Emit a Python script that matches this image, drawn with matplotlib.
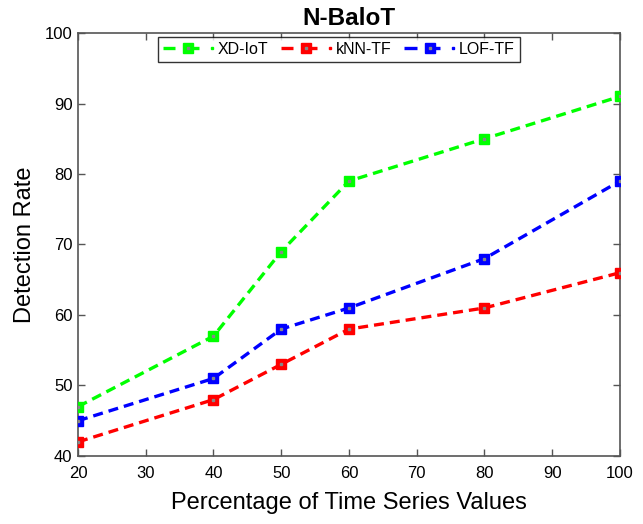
import matplotlib
matplotlib.use("Agg")
import matplotlib.pyplot as plt
from matplotlib.lines import Line2D
from matplotlib.legend_handler import HandlerBase

plt.rcParams['font.family'] = ['Liberation Sans', 'DejaVu Sans']

# data
percent = [20, 40, 50, 60, 80, 100]
xd_iot = [47, 57, 69, 79, 85, 91]
knn_tf = [42, 48, 53, 58, 61, 66]
lof_tf = [45, 51, 58, 61, 68, 79]

series = [
    ("XD-IoT", xd_iot, "#00FF00"),
    ("kNN-TF", knn_tf, "#FF0000"),
    ("LOF-TF", lof_tf, "#0000FF"),
]

AXIS_COLOR = "#555555"
LW = 2.4


class MatlabLegendHandler(HandlerBase):
    # mimic the odd MATLAB legend glyph: short line, marker with stub, dot
    def create_artists(self, legend, orig_handle, xdescent, ydescent,
                       width, height, fontsize, trans):
        col = orig_handle.get_color()
        x0 = -xdescent
        y = -ydescent + height / 2.0
        seg = Line2D([x0, x0 + 0.25 * width], [y, y], color=col, lw=LW,
                     solid_capstyle='butt')
        stub = Line2D([x0 + 0.52 * width, x0 + 0.74 * width], [y, y],
                      color=col, lw=LW, solid_capstyle='butt')
        mk = Line2D([x0 + 0.52 * width], [y], linestyle='none', marker='s',
                    markersize=7, color=col)
        mdot = Line2D([x0 + 0.52 * width], [y], linestyle='none', marker='s',
                      markersize=1.5, color='#888888')
        dot = Line2D([x0 + width], [y], linestyle='none', marker='s',
                     markersize=1.5, color=col)
        arts = [seg, stub, mk, mdot, dot]
        for a in arts:
            a.set_transform(trans)
        return arts


fig = plt.figure(figsize=(6.43, 5.24), dpi=100)
ax = fig.add_axes([0.1213, 0.1298, 0.8429, 0.8072])

handles = []
for label, vals, col in series:
    ax.plot(percent, vals, color=col, linewidth=LW, dashes=(3, 1.8),
            marker='s', markersize=7, markerfacecolor=col, markeredgecolor=col,
            zorder=3)
    # small grey dot in the middle of each marker
    ax.plot(percent, vals, linestyle='none', marker='s', markersize=1.5,
            color='#888888', zorder=4)
    handles.append(Line2D([], [], color=col, label=label))

ax.set_xlim(20, 100)
ax.set_ylim(40, 100)
ax.set_xticks([20, 30, 40, 50, 60, 70, 80, 90, 100])
ax.set_yticks([40, 50, 60, 70, 80, 90, 100])

ax.tick_params(direction='in', top=True, right=True, length=5, width=1,
               colors=AXIS_COLOR, labelcolor='black', labelsize=12)
ax.tick_params(axis='x', pad=7)
ax.tick_params(axis='y', pad=4)
for sp in ax.spines.values():
    sp.set_color(AXIS_COLOR)
    sp.set_linewidth(1.2)

ax.set_xlabel("Percentage of Time Series Values", fontsize=17, labelpad=8)
ax.set_ylabel("Detection Rate", fontsize=17, labelpad=6)
ax.set_title("N-BaloT", fontsize=17.5, fontweight='bold', pad=6)

leg = ax.legend(handles=handles, loc='upper left',
                bbox_to_anchor=(0.1476, 0.99), ncol=3, fontsize=11.5,
                frameon=True, fancybox=False, borderaxespad=0.0,
                handlelength=3.06, columnspacing=0.8, handletextpad=0.37,
                borderpad=0.3,
                handler_map={Line2D: MatlabLegendHandler()})
leg.get_frame().set_edgecolor('black')
leg.get_frame().set_linewidth(1.0)

plt.savefig("out.png", dpi=100)
plt.close()
